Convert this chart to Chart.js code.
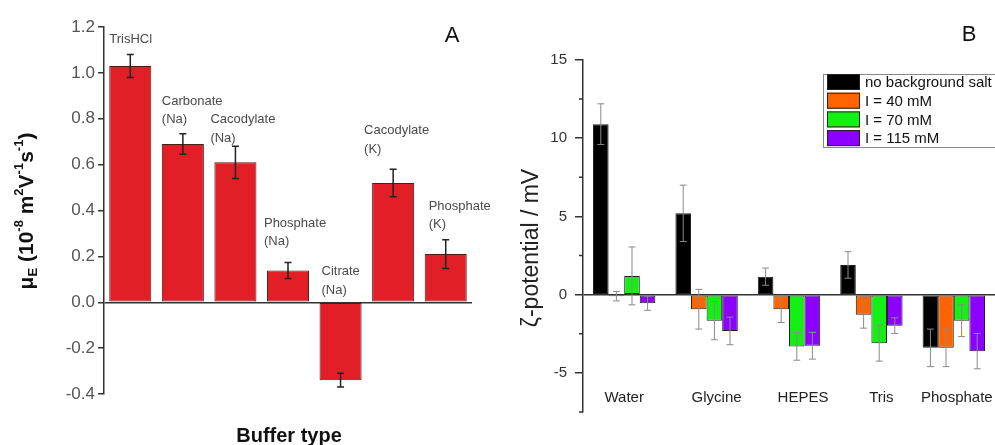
<!DOCTYPE html>
<html>
<head>
<meta charset="utf-8">
<script src="https://cdn.jsdelivr.net/npm/chart.js@4.4.1/dist/chart.umd.min.js"></script>
<style>
  html, body { margin: 0; padding: 0; background: #fff; }
  #wrap { position: relative; width: 995px; height: 445px; overflow: hidden; }
  #chartA { position: absolute; left: 0; top: 0; }
  #chartB { position: absolute; left: 500px; top: 0; }
</style>
</head>
<body>
<div id="wrap">
  <canvas id="chartA" width="500" height="445"></canvas>
  <canvas id="chartB" width="495" height="445"></canvas>
</div>
<script>
// Panel A - electrophoretic mobility per buffer
const bufferNames = [["TrisHCl"], ["Carbonate", "(Na)"], ["Cacodylate", "(Na)"], ["Phosphate", "(Na)"],
  ["Citrate", "(Na)"], ["Cacodylate", "(K)"], ["Phosphate", "(K)"]];
const mobility = [1.03, 0.69, 0.61, 0.138, -0.34, 0.52, 0.21];
const mobilityErr = [0.05, 0.045, 0.07, 0.035, 0.03, 0.06, 0.063];
const mobilityTicks = [-0.4, -0.2, 0.0, 0.2, 0.4, 0.6, 0.8, 1.0, 1.2];

// Panel B - zeta potential per buffer and ionic strength
const zetaBuffers = ["Water", "Glycine", "HEPES", "Tris", "Phosphate"];
const zetaSeries = ["no background salt", "I = 40 mM", "I = 70 mM", "I = 115 mM"];
const zetaNoSalt = [10.9, 5.2, 1.15, 1.9, -3.4];
const zetaNoSaltErr = [1.3, 1.8, 0.55, 0.85, 1.2];
const zeta40 = [-0.1, -0.93, -0.93, -1.29, -3.4];
const zeta40Err = [0.3, 1.27, 0.85, 0.85, 1.2];
const zeta70 = [1.2, -1.66, -3.31, -3.1, -1.66];
const zeta70Err = [1.85, 1.22, 0.88, 1.15, 1.02];
const zeta115 = [-0.55, -2.32, -3.27, -1.98, -3.61];
const zeta115Err = [0.45, 0.88, 0.85, 0.5, 1.13];
const zetaTicks = [-5, 0, 5, 10, 15];
const zetaMinorTicks = [-7.5, -2.5, 2.5, 7.5, 12.5];

const FONT = '"Liberation Sans", Arial, sans-serif';
Chart.defaults.font.family = FONT;

// little nudges so the in-plot labels sit where the original put them
const labelNudgeA = [[0, 0], [0, 1], [-4, 7], [-3, -6], [2, 3], [-8, -5], [4, 0]];
const labelNudgeB = [0, 10, 14, 10, 3];

const errorBars = {
  id: "errorBars",
  afterDatasetsDraw(chart, args, opts) {
    const ctx = chart.ctx;
    const y = chart.scales.y;
    chart.data.datasets.forEach((ds, di) => {
      if (!ds.errors) return;
      const meta = chart.getDatasetMeta(di);
      meta.data.forEach((bar, i) => {
        const v = ds.data[i], e = ds.errors[i];
        const top = y.getPixelForValue(v + e);
        const bot = y.getPixelForValue(v - e);
        ctx.save();
        ctx.strokeStyle = opts.color;
        ctx.lineWidth = opts.width;
        ctx.beginPath();
        ctx.moveTo(bar.x, top); ctx.lineTo(bar.x, bot);
        ctx.moveTo(bar.x - opts.cap, top); ctx.lineTo(bar.x + opts.cap, top);
        ctx.moveTo(bar.x - opts.cap, bot); ctx.lineTo(bar.x + opts.cap, bot);
        ctx.stroke();
        ctx.restore();
      });
    });
  }
};

// draw rotated text with sub/superscripts
function drawRich(ctx, parts, cx, cy, size, weight) {
  ctx.save();
  ctx.translate(cx, cy);
  ctx.rotate(-Math.PI / 2);
  const fontFor = k => `${weight} ${k === "n" ? size : Math.round(size * 0.62)}px ${FONT}`;
  let total = 0;
  parts.forEach(([t, k]) => { ctx.font = fontFor(k); total += ctx.measureText(t).width; });
  let x = -total / 2;
  ctx.textBaseline = "middle";
  ctx.textAlign = "left";
  ctx.fillStyle = "#111";
  parts.forEach(([t, k]) => {
    ctx.font = fontFor(k);
    const dy = k === "sup" ? -size * 0.38 : k === "sub" ? size * 0.32 : 0;
    ctx.fillText(t, x, dy);
    x += ctx.measureText(t).width;
  });
  ctx.restore();
}

const decorA = {
  id: "decorA",
  afterDraw(chart) {
    const ctx = chart.ctx;
    const y = chart.scales.y;
    const meta = chart.getDatasetMeta(0);
    ctx.save();
    ctx.font = `13px ${FONT}`;
    ctx.fillStyle = "#4a4a4a";
    ctx.textBaseline = "middle";
    ctx.textAlign = "left";
    meta.data.forEach((bar, i) => {
      const lines = bufferNames[i];
      const topVal = Math.max(mobility[i] + mobilityErr[i], 0);
      const left = bar.x - bar.width / 2 + labelNudgeA[i][0];
      const lastY = y.getPixelForValue(topVal) - 15 + labelNudgeA[i][1];
      lines.forEach((t, li) => {
        ctx.fillText(t, left, lastY - (lines.length - 1 - li) * 18.5);
      });
    });
    ctx.restore();

    drawRich(ctx, [["μ", "n"], ["E", "sub"], [" (10", "n"], ["-8", "sup"], [" m", "n"], ["2", "sup"],
      ["V", "n"], ["-1", "sup"], ["s", "n"], ["-1", "sup"], [")", "n"]], 27, 211, 21, "bold");

    ctx.save();
    ctx.fillStyle = "#111";
    ctx.textAlign = "center";
    ctx.textBaseline = "middle";
    ctx.font = `bold 20px ${FONT}`;
    ctx.fillText("Buffer type", 289, 436);
    ctx.font = `22px ${FONT}`;
    ctx.fillText("A", 452, 36);
    ctx.restore();
  }
};

const decorB = {
  id: "decorB",
  afterDraw(chart) {
    const ctx = chart.ctx;
    const x = chart.scales.x;
    const y = chart.scales.y;
    const area = chart.chartArea;
    ctx.save();
    // minor ticks
    ctx.strokeStyle = "#333";
    ctx.lineWidth = 1.5;
    ctx.beginPath();
    zetaMinorTicks.forEach(v => {
      const py = y.getPixelForValue(v);
      ctx.moveTo(area.left - 4, py);
      ctx.lineTo(area.left, py);
    });
    ctx.stroke();

    // category labels inside plot
    ctx.font = `15px ${FONT}`;
    ctx.fillStyle = "#222";
    ctx.textAlign = "center";
    ctx.textBaseline = "middle";
    zetaBuffers.forEach((name, i) => {
      ctx.fillText(name, x.getPixelForValue(i) + labelNudgeB[i], y.getPixelForValue(-6.6));
    });

    // legend box
    const lx = 323, ly = 74;
    ctx.fillStyle = "#fff";
    ctx.fillRect(lx, ly, 200, 73);
    ctx.strokeStyle = "#888";
    ctx.lineWidth = 1;
    ctx.strokeRect(lx + 0.5, ly + 0.5, 200, 73);
    ctx.textAlign = "left";
    chart.data.datasets.forEach((ds, i) => {
      const cy = 82 + i * 18.7;
      ctx.fillStyle = ds.backgroundColor;
      ctx.fillRect(lx + 4, cy - 8, 33, 16);
      ctx.strokeStyle = "#222";
      ctx.strokeRect(lx + 4.5, cy - 7.5, 32, 15);
      ctx.fillStyle = "#111";
      ctx.font = `15px ${FONT}`;
      ctx.fillText(ds.label, lx + 42, cy + 1);
    });

    // axis title and panel letter
    ctx.fillStyle = "#222";
    ctx.save();
    ctx.translate(32, 248);
    ctx.rotate(-Math.PI / 2);
    ctx.textAlign = "center";
    ctx.font = `23px ${FONT}`;
    ctx.fillText("ζ-potential / mV", 0, 0);
    ctx.restore();
    ctx.textAlign = "center";
    ctx.font = `22px ${FONT}`;
    ctx.fillStyle = "#111";
    ctx.fillText("B", 469, 35);
    ctx.restore();
  }
};

const zeroLine = c => (Math.abs(c.tick.value) < 1e-9 ? "#333" : "rgba(0,0,0,0)");

new Chart(document.getElementById("chartA"), {
  type: "bar",
  data: {
    labels: bufferNames.map(l => l.join(" ")),
    datasets: [{
      data: mobility,
      errors: mobilityErr,
      backgroundColor: "#e21f26",
      borderColor: "#4d1b1b",
      borderWidth: 1,
      borderSkipped: false,
      barPercentage: 0.8,
      categoryPercentage: 1
    }]
  },
  options: {
    responsive: false,
    animation: false,
    layout: { padding: { left: 0, right: 28, top: 27, bottom: 51 } },
    plugins: {
      legend: { display: false },
      tooltip: { enabled: false },
      errorBars: { color: "#222", width: 1.5, cap: 3.5 }
    },
    scales: {
      x: { display: false },
      y: {
        min: -0.4,
        max: 1.2,
        afterBuildTicks: s => { s.ticks = mobilityTicks.map(v => ({ value: v })); },
        afterFit: s => { s.width = 104; },
        border: { display: true, color: "#333", width: 1.5 },
        grid: { color: zeroLine, lineWidth: 1.5, tickColor: "#333", tickLength: 6, tickWidth: 1.5 },
        ticks: { color: "#555", font: { size: 17 }, padding: 3, callback: v => v.toFixed(1) }
      }
    }
  },
  plugins: [errorBars, decorA]
});

const zetaColors = ["#000000", "#ff6400", "#14f014", "#8c00ff"];
const zetaValues = [zeta40, zeta70, zeta115];
const zetaErrors = [zeta40Err, zeta70Err, zeta115Err];

new Chart(document.getElementById("chartB"), {
  type: "bar",
  data: {
    labels: zetaBuffers,
    datasets: [zetaNoSalt].concat(zetaValues).map((vals, i) => ({
      label: zetaSeries[i],
      data: vals,
      errors: i === 0 ? zetaNoSaltErr : zetaErrors[i - 1],
      backgroundColor: zetaColors[i],
      borderColor: "#222",
      borderWidth: 1,
      borderSkipped: false,
      barPercentage: 1,
      categoryPercentage: 0.757
    }))
  },
  options: {
    responsive: false,
    animation: false,
    layout: { padding: { left: 0, right: 0, top: 60, bottom: 33 } },
    plugins: {
      legend: { display: false },
      tooltip: { enabled: false },
      errorBars: { color: "#8a8a8a", width: 1, cap: 3.5 }
    },
    scales: {
      x: { display: false },
      y: {
        min: -7.5,
        max: 15,
        afterBuildTicks: s => { s.ticks = zetaTicks.map(v => ({ value: v })); },
        afterFit: s => { s.width = 83; },
        border: { display: true, color: "#333", width: 1.5 },
        grid: { color: zeroLine, lineWidth: 1.5, tickColor: "#333", tickLength: 8, tickWidth: 1.5 },
        ticks: { color: "#333", font: { size: 15 }, padding: 8 }
      }
    }
  },
  plugins: [errorBars, decorB]
});
</script>
</body>
</html>
